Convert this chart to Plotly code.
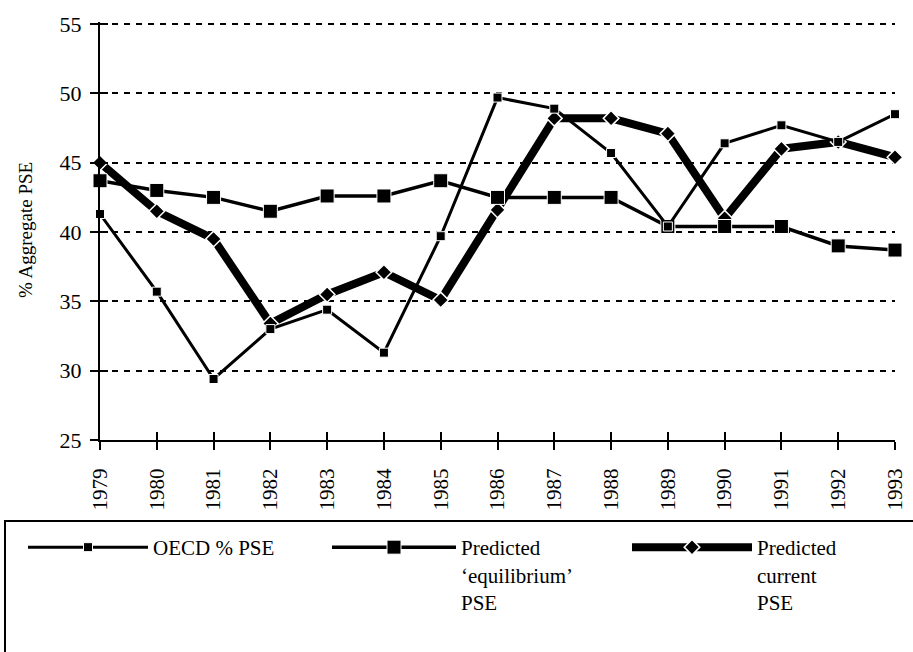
import plotly.graph_objects as go

# Series values (% aggregate PSE), 1979-1993
years = list(range(1979, 1994))
year_labels = [str(y) for y in years]
oecd_pse = [41.3, 35.7, 29.4, 33.0, 34.4, 31.3, 39.7, 49.7, 48.9, 45.7, 40.4, 46.4, 47.7, 46.5, 48.5]
equilibrium_pse = [43.7, 43.0, 42.5, 41.5, 42.6, 42.6, 43.7, 42.5, 42.5, 42.5, 40.4, 40.4, 40.4, 39.0, 38.7]
current_pse = [45.0, 41.5, 39.5, 33.4, 35.5, 37.1, 35.1, 41.6, 48.2, 48.2, 47.1, 41.0, 46.0, 46.5, 45.4]
y_ticks = [25, 30, 35, 40, 45, 50, 55]

W, H = 913, 652
ML, MR, MT, MB = 100, 18, 22, 212
PW, PH = W - ML - MR, H - MT - MB

SERIF = "Liberation Serif"


def px_x(px):
    return (px - ML) / PW


def px_y(py):
    return (H - MB - py) / PH


fig = go.Figure()

fig.add_trace(go.Scatter(
    x=years, y=current_pse, name="Predicted<br>current<br>PSE",
    mode="lines+markers", cliponaxis=False, legend="legend3",
    line=dict(color="black", width=8),
    marker=dict(symbol="diamond", size=12, color="black",
                line=dict(color="white", width=1.5)),
))
fig.add_trace(go.Scatter(
    x=years, y=equilibrium_pse, name="Predicted<br>‘equilibrium’<br>PSE",
    mode="lines+markers", cliponaxis=False, legend="legend2",
    line=dict(color="black", width=3.5),
    marker=dict(symbol="square", size=14, color="black",
                line=dict(color="white", width=1)),
))
fig.add_trace(go.Scatter(
    x=years, y=oecd_pse, name="OECD % PSE",
    mode="lines+markers", cliponaxis=False, legend="legend",
    line=dict(color="black", width=3),
    marker=dict(symbol="square", size=9, color="black",
                line=dict(color="white", width=1)),
))

# Empty traces that bind the overlay axes (inner halves of the cross ticks)
fig.add_trace(go.Scatter(x=[years[0]], y=[y_ticks[0]], xaxis="x2", yaxis="y",
                         mode="none", showlegend=False, hoverinfo="skip"))
fig.add_trace(go.Scatter(x=[years[0]], y=[y_ticks[0]], xaxis="x", yaxis="y2",
                         mode="none", showlegend=False, hoverinfo="skip"))

legend_common = dict(
    xref="container", yref="container", xanchor="left", yanchor="top",
    font=dict(family=SERIF, size=21, color="black"),
    bgcolor="rgba(0,0,0,0)", borderwidth=0, valign="top",
    tracegroupgap=0,
)
legend_top = 1 - 527 / H

fig.update_layout(
    width=W, height=H,
    margin=dict(l=ML, r=MR, t=MT, b=MB, autoexpand=False),
    paper_bgcolor="white", plot_bgcolor="white",
    font=dict(family=SERIF, color="black"),
    showlegend=True,
    legend=dict(x=23 / W, y=legend_top, itemwidth=120, **legend_common),
    legend2=dict(x=327 / W, y=legend_top, itemwidth=124, **legend_common),
    legend3=dict(x=627 / W, y=legend_top, itemwidth=120, **legend_common),
    xaxis=dict(
        range=[years[0], years[-1]], tickvals=years, ticktext=year_labels,
        tickangle=-90, ticks="outside", ticklen=8, tickwidth=2, tickcolor="black",
        showline=True, linecolor="black", linewidth=2, showgrid=False, zeroline=False,
        tickfont=dict(family=SERIF, size=21, color="black"), ticklabelstandoff=10,
        automargin=False,
    ),
    xaxis2=dict(
        range=[years[0], years[-1]], tickvals=years, overlaying="x", anchor="y",
        side="bottom", ticks="inside", ticklen=8, tickwidth=2, tickcolor="black",
        showticklabels=False, showline=False, showgrid=False, zeroline=False,
    ),
    yaxis=dict(
        range=[25, 55.15], tickvals=y_ticks, ticks="outside", ticklen=8, tickwidth=2,
        tickcolor="black", showline=True, linecolor="black", linewidth=2,
        showgrid=True, gridcolor="black", gridwidth=2, griddash="6px,6px",
        zeroline=False, tickfont=dict(family=SERIF, size=22, color="black"),
        ticklabelstandoff=4, automargin=False,
    ),
    yaxis2=dict(
        range=[25, 55.15], tickvals=y_ticks, overlaying="y", anchor="x",
        side="left", ticks="inside", ticklen=8, tickwidth=2, tickcolor="black",
        showticklabels=False, showline=False, showgrid=False, zeroline=False,
    ),
)

# Vertical axis title
fig.add_annotation(
    text="% Aggregate PSE", xref="paper", yref="paper",
    x=px_x(25), y=px_y(230), xanchor="center", yanchor="middle",
    textangle=-90, showarrow=False,
    font=dict(family=SERIF, size=19, color="black"),
)

# Frame around the legend area
fig.add_shape(
    type="rect", xref="paper", yref="paper",
    x0=px_x(5), x1=px_x(W + 20), y0=px_y(H + 20), y1=px_y(521),
    line=dict(color="black", width=2), fillcolor="rgba(0,0,0,0)", layer="above",
)

fig.write_html("out.html")
